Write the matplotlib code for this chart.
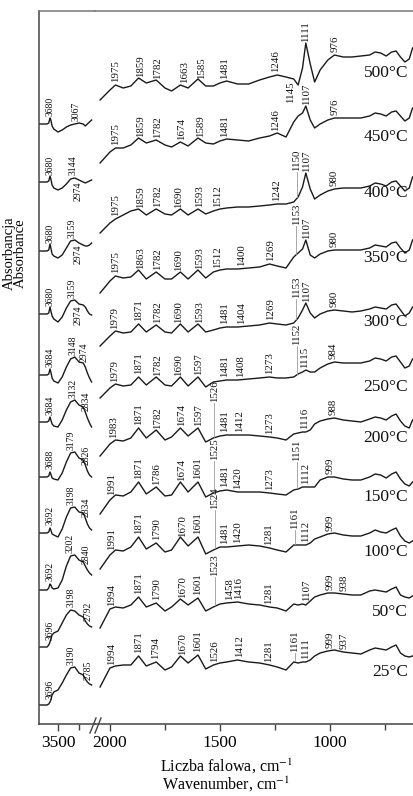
import numpy as np
import matplotlib
matplotlib.use("Agg")
import matplotlib.pyplot as plt
from matplotlib.lines import Line2D

plt.rcParams['font.family'] = ['Liberation Serif', 'DejaVu Serif']
plt.rcParams['mathtext.fontset'] = 'stix'

# ---------------- data ----------------
temps = ['500°C', '450°C', '400°C', '350°C', '300°C', '250°C',
         '200°C', '150°C', '100°C', '50°C', '25°C']

wn_right = [2045, 2000, 1975, 1940, 1905, 1870, 1835, 1790, 1750, 1720, 1680, 1645,
            1600, 1565, 1530, 1500, 1470, 1420, 1370, 1320, 1275, 1240, 1200, 1165,
            1145, 1125, 1110, 1090, 1070, 1045, 1010, 980, 940, 900, 860, 820, 795,
            770, 745, 720, 700, 680, 660, 640, 625]
wn_left = [3950, 3760, 3720, 3690, 3670, 3640, 3600, 3500, 3400, 3300, 3200, 3100,
           3000, 2900, 2850, 2800, 2750, 2700]

# stacking offsets (a.u.)
base_right = [640, 584, 517, 455, 398, 344, 288, 232, 177, 121, 62]
base_left = [600, 542, 473, 410, 349, 302, 247, 191, 134, 77, 19]

# relative absorbance, right segment (2045-625 cm-1)
r500 = [-16, -6, -1, -4, -2, 6, 1, 4, -4, -7, -1, -4, 5, -2, -2, 1, 3, 0, 0, 4, 7, 9, 7, 5, -1,
        16, 41, 20, 2, 14, 24, 29, 27, 27, 28, 29, 32, 31, 28, 32, 33, 27, 22, 25, 36]
r450 = [-23, -12, -8, -8, -5, 2, -3, 0, -5, -7, -2, -6, 2, -3, -4, -1, 1, 0, -1, 2, 4, 7, 3, 18, 24,
        27, 34, 20, 12, 16, 20, 22, 22, 22, 22, 24, 27, 26, 24, 28, 29, 24, 19, 22, 32]
r400 = [-26, -16, -12, -8, -4, -2, -8, -2, -7, -8, -2, -8, -2, -7, -4, -2, -1, 0, 0, 1, 2, 3, 3, 5, 10,
        20, 34, 18, 8, 12, 16, 18, 19, 19, 19, 21, 24, 23, 21, 25, 26, 21, 16, 19, 30]
r350 = [-24, -12, -7, -9, -8, -1, -10, -3, -10, -10, -3, -10, -1, -9, -3, -1, 0, 0, 1, 2, 5, 3, 1, 12, 16,
        20, 29, 14, 11, 15, 18, 19, 19, 19, 19, 21, 24, 23, 22, 26, 27, 21, 16, 19, 29]
r300 = [-20, -10, -5, -7, -6, 2, -6, 1, -6, -7, 2, -6, 2, -6, -4, -2, -1, -1, 0, 1, 3, 2, 1, 3, 8,
        16, 23, 13, 8, 12, 15, 16, 15, 14, 15, 17, 19, 18, 17, 21, 22, 16, 10, 13, 19]
r250 = [-18, -8, -4, -6, -5, 3, -5, 3, -5, -6, 3, -6, 3, -7, -2, -1, 0, 0, 1, 2, 3, 2, 2, 3, 6,
        8, 10, 8, 8, 12, 16, 18, 17, 17, 17, 19, 22, 21, 19, 23, 24, 18, 12, 14, 21]
r200 = [-20, -8, -4, -5, -2, 8, -2, 6, -4, -1, 8, 0, 8, -6, -2, 0, 1, 1, 1, 0, -1, -2, -4, 2, 3,
        4, 4, 6, 12, 15, 17, 18, 16, 15, 14, 17, 19, 18, 16, 20, 22, 15, 10, 8, 16]
r150 = [-22, -8, -3, -4, 0, 10, -2, 5, -4, -3, 10, 0, 10, -5, -1, 1, 2, 0, 0, 0, -1, -2, -3, 2, 3,
        5, 5, 5, 5, 12, 15, 15, 13, 12, 12, 15, 18, 17, 14, 18, 20, 13, 8, 6, 10]
r100 = [-22, -8, -3, -4, 0, 10, -2, 4, -5, -3, 10, 1, 10, -7, -3, 0, 0, 1, 2, 1, -1, -3, -5, 2, 2,
        2, 2, 4, 8, 10, 13, 14, 12, 11, 11, 14, 17, 15, 14, 17, 19, 11, 6, 4, 6]
r50 = [-25, -6, -4, -5, -2, 6, -4, 0, -8, -4, 4, -2, 5, -8, -4, -1, 0, 1, -1, -2, -4, -5, -8, -1, -2,
       -1, -2, 2, 6, 8, 10, 10, 9, 8, 8, 12, 13, 12, 11, 14, 16, 8, 6, 5, 7]
r25 = [-25, -6, -4, -3, -3, 6, -4, 0, -8, -5, 6, -1, 7, -7, -3, -1, 0, 2, 0, -1, -3, -5, -8, 0, -1,
       0, 0, 2, 6, 9, 11, 12, 10, 9, 8, 12, 14, 13, 12, 15, 17, 9, 6, 5, 6]

# relative absorbance, left segment (3950-2700 cm-1)
l500 = [0, 0, 1, 6, 4, -2, -5, -8, -6, -3, -1, 0, 1, 0, -2, 0, 2, 4]
l450 = [0, 0, 1, 6, 3, -3, -6, -8, -6, -2, 3, 4, 2, 0, -1, 0, 1, 2]
l400 = [0, 0, 1, 7, 3, -3, -5, -7, -4, 3, 10, 11, 8, 6, 5, 5, 6, 8]
l350 = [0, 0, 1, 7, 3, -2, -5, -8, -3, 6, 13, 14, 10, 9, 7, 3, 0, -1]
l300 = [0, 0, 1, 6, 3, -3, -6, -8, -2, 8, 16, 18, 13, 12, 8, 2, -3, -7]
l250 = [0, 0, 1, 5, 2, -2, -4, -5, 2, 12, 20, 22, 17, 15, 10, 4, -1, -5]
l200 = [0, 0, 1, 5, 3, -1, -2, -3, 4, 15, 24, 25, 19, 17, 12, 6, 2, 0]
l150 = [0, 0, 1, 5, 3, -1, -2, -4, 4, 16, 25, 26, 21, 20, 15, 9, 5, 3]
l100 = [0, 0, 2, 6, 5, 2, 1, 2, 10, 24, 34, 35, 30, 28, 24, 20, 17, 15]
l50 = [0, 0, 2, 5, 8, 12, 14, 16, 24, 32, 37, 36, 32, 30, 26, 23, 21, 20]
l25 = [0, 0, 1, 3, 5, 10, 13, 15, 22, 30, 37, 38, 32, 30, 26, 23, 21, 20]

# peak labels
p500 = [1975, 1859, 1782, 1663, 1585, 1481, 1246, 1145, 1111, 976]
p450 = [1975, 1859, 1782, 1674, 1589, 1481, 1246, 1107, 976]
p400 = [1975, 1859, 1782, 1690, 1593, 1512, 1242, 1150, 1107, 980]
p350 = [1975, 1863, 1782, 1690, 1593, 1512, 1400, 1269, 1153, 1107, 980]
p300 = [1979, 1871, 1782, 1690, 1593, 1481, 1404, 1269, 1153, 1107, 980]
p250 = [1979, 1871, 1782, 1690, 1597, 1481, 1408, 1273, 1152, 1115, 984]
p200 = [1983, 1871, 1782, 1674, 1597, 1526, 1481, 1412, 1273, 1116, 988]
p150 = [1991, 1871, 1786, 1674, 1601, 1525, 1481, 1420, 1273, 1151, 1112, 999]
p100 = [1991, 1871, 1790, 1670, 1601, 1524, 1481, 1420, 1281, 1161, 1112, 999]
p50 = [1994, 1871, 1790, 1670, 1601, 1523, 1458, 1416, 1281, 1107, 999, 938]
p25 = [1994, 1871, 1794, 1670, 1601, 1526, 1412, 1281, 1161, 1111, 999, 937]

q500 = [3680, 3067]
q450 = [3680, 3144, 2974]
q400 = [3680, 3159, 2974]
q350 = [3680, 3159, 2974]
q300 = [3684, 3148, 2974]
q250 = [3684, 3132, 2834]
q200 = [3688, 3179, 2826]
q150 = [3692, 3198, 2834]
q100 = [3692, 3202, 2840]
q50 = [3696, 3198, 2792]
q25 = [3696, 3190, 2785]

right_shapes = [r500, r450, r400, r350, r300, r250, r200, r150, r100, r50, r25]
left_shapes = [l500, l450, l400, l350, l300, l250, l200, l150, l100, l50, l25]
right_peaks = [p500, p450, p400, p350, p300, p250, p200, p150, p100, p50, p25]
left_peaks = [q500, q450, q400, q350, q300, q250, q200, q150, q100, q50, q25]

# ---------------- layout / style ----------------
W, H = 413, 796
fig = plt.figure(figsize=(W / 100, H / 100), dpi=100)
bot = 1 - 724 / H
hgt = 713 / H
ax1 = fig.add_axes([39 / W, bot, 56 / W, hgt])
ax2 = fig.add_axes([95 / W, bot, 318 / W, hgt])

LINE = '#1a1a1a'
SPINE = '#444444'
label_fs = 7.8
gap = 3
# special label offsets (spectrum index, wavenumber): vertical offset
special = {(0, 1145): -3, (2, 1150): 27, (3, 1153): 30, (4, 1153): 22,
           (5, 1152): 30, (6, 1526): 36, (7, 1525): 33, (7, 1151): 28,
           (8, 1524): 40, (8, 1161): 16, (9, 1523): 30, (10, 1161): 10,
           (1, 2974): -2, (2, 2974): -2, (3, 2974): -2}
# text anchor positions that differ from the peak position
text_at = {(0, 1145): 1180, (1, 2974): 3014, (2, 2974): 3014, (3, 2974): 3014,
           (4, 2974): 2880}
temp_shift = [11, 3, 14, 11, 4, -7, -2, -5, -5, -9, -10]


def put_label(ax, xs, ys, wn, key, fs=label_fs):
    xt = text_at.get(key, wn)
    yc = np.interp(xt, xs[::-1], ys[::-1])
    dy = special.get(key, gap)
    if dy >= 0:
        ax.text(xt, yc + dy, str(wn), rotation=90, ha='center', va='bottom',
                fontsize=fs, color='#111111')
        if dy > 8:
            ax.plot([wn, wn], [yc + 1, yc + dy - 1], color='#9a9a9a', lw=0.6)
    else:
        ax.text(xt, yc + dy, str(wn), rotation=90, ha='center',
                va='top', fontsize=fs, color='#111111')


for i, t in enumerate(temps):
    xr = np.array(wn_right, float)
    yr = base_right[i] + np.array(right_shapes[i], float)
    ax2.plot(xr, yr, color=LINE, lw=1.0)
    xl = np.array(wn_left, float)
    yl = base_left[i] + np.array(left_shapes[i], float)
    ax1.plot(xl, yl, color=LINE, lw=1.0)
    for wn in right_peaks[i]:
        put_label(ax2, xr, yr, wn, (i, wn))
    for wn in left_peaks[i]:
        put_label(ax1, xl, yl, wn, (i, wn), fs=7.0)
    ax2.text(645, base_right[i] + temp_shift[i], t, ha='right', va='center',
             fontsize=12.5, color='#111111')

for ax in (ax1, ax2):
    ax.set_ylim(0, 713)
    ax.set_yticks([])
    ax.set_facecolor('none')
    for s in ax.spines.values():
        s.set_color(SPINE)
        s.set_linewidth(1.1)
    ax.tick_params(axis='x', direction='out', length=5, width=1.0, labelsize=12.5,
                   color=SPINE, pad=3)
    ax.tick_params(axis='x', which='minor', direction='out', length=4, width=1.0,
                   color=SPINE)

ax1.set_xlim(3952, 2619)
ax2.set_xlim(2068, 623)
ax1.set_xticks([3500])
ax1.set_xticks([3000], minor=True)
ax2.set_xticks([2000, 1500, 1000])
ax2.set_xticks([1750, 1250, 750], minor=True)
ax1.spines['right'].set_visible(False)
ax2.spines['left'].set_visible(False)
ax2.spines['right'].set_visible(False)
ax2.spines['top'].set_color('#777777')
ax1.spines['top'].set_color('#777777')

# axis break marks
for x0 in (90, 95):
    fig.add_artist(Line2D([x0 / W, (x0 + 6) / W], [1 - 733 / H, 1 - 718 / H],
                          color=SPINE, lw=1.0, transform=fig.transFigure))

fig.text(226 / W, 1 - 766 / H, 'Liczba falowa, cm$^{-1}$', ha='center', va='center',
         fontsize=11.5)
fig.text(226 / W, 1 - 784 / H, 'Wavenumber, cm$^{-1}$', ha='center', va='center',
         fontsize=11.5)
fig.text(15 / W, 1 - 253 / H, 'Absorbancja\nAbsorbance', rotation=90, ha='center',
         va='center', fontsize=10.5, linespacing=0.85, multialignment='center')

fig.savefig('out.png', dpi=100)
